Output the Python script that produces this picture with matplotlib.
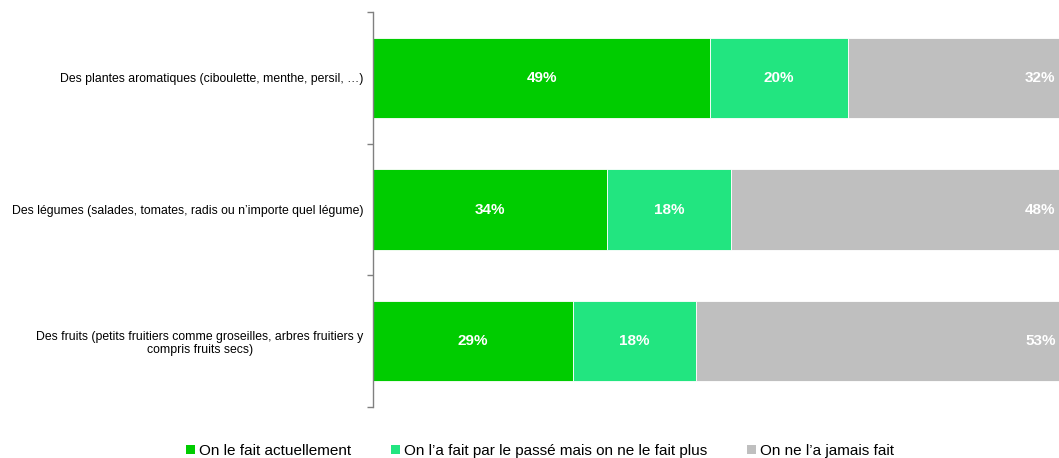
import matplotlib
matplotlib.use("Agg")
import matplotlib.pyplot as plt
from matplotlib.patches import Patch

categories = [
    "Des plantes aromatiques (ciboulette, menthe, persil, \u2026)",
    "Des légumes (salades, tomates, radis ou n\u2019importe quel légume)",
    "Des fruits (petits fruitiers comme groseilles, arbres fruitiers y\ncompris fruits secs)",
]
series_names = [
    "On le fait actuellement",
    "On l\u2019a fait par le passé mais on ne le fait plus",
    "On ne l\u2019a jamais fait",
]
actuellement = [49, 34, 29]
passe = [20, 18, 18]
jamais = [32, 48, 53]
colors = ["#00CC00", "#22E580", "#BFBFBF"]

plt.rcParams['font.family'] = ['Liberation Sans', 'DejaVu Sans']

fig = plt.figure(figsize=(10.59, 4.58), dpi=100)
ax = fig.add_axes([373/1059, 1-407/458, 1-373/1059, (407-12)/458])

ypos = list(range(len(categories)))
series = [actuellement, passe, jamais]
xmax = 99.7
left = [0]*len(categories)
for si, (vals, col) in enumerate(zip(series, colors)):
    ax.barh(ypos, vals, left=left, height=0.61, color=col, edgecolor="white", linewidth=0.6)
    for i, v in enumerate(vals):
        if si < 2:
            ax.text(left[i] + v/2, ypos[i], f"{v}%", ha="center", va="center",
                    color="white", fontsize=11, fontweight="bold")
        else:
            ax.text(xmax - 0.5, ypos[i], f"{v}%", ha="right", va="center",
                    color="white", fontsize=11, fontweight="bold")
    left = [l + v for l, v in zip(left, vals)]

ax.set_xlim(0, xmax)
ax.set_ylim(len(categories) - 0.5, -0.5)
ax.set_yticks(ypos)
ax.set_yticklabels(categories, fontsize=8.8, multialignment="center")
ax.tick_params(axis="y", which="major", length=0, pad=7)
ax.set_yticks([-0.5, 0.5, 1.5, 2.5], minor=True)
ax.tick_params(axis="y", which="minor", length=4, color="#808080", width=1)
ax.set_xticks([])
for s in ["top", "right", "bottom"]:
    ax.spines[s].set_visible(False)
ax.spines["left"].set_color("#808080")
ax.spines["left"].set_linewidth(1)

handles = [Patch(facecolor=c, edgecolor="none") for c in colors]
fig.legend(handles, series_names, loc="center", bbox_to_anchor=(540/1059, 1-451/458),
           ncol=3, frameon=False, fontsize=11, handlelength=0.6, handleheight=0.6,
           handletextpad=0.25, columnspacing=2.6)

fig.savefig("out.png", dpi=100)
